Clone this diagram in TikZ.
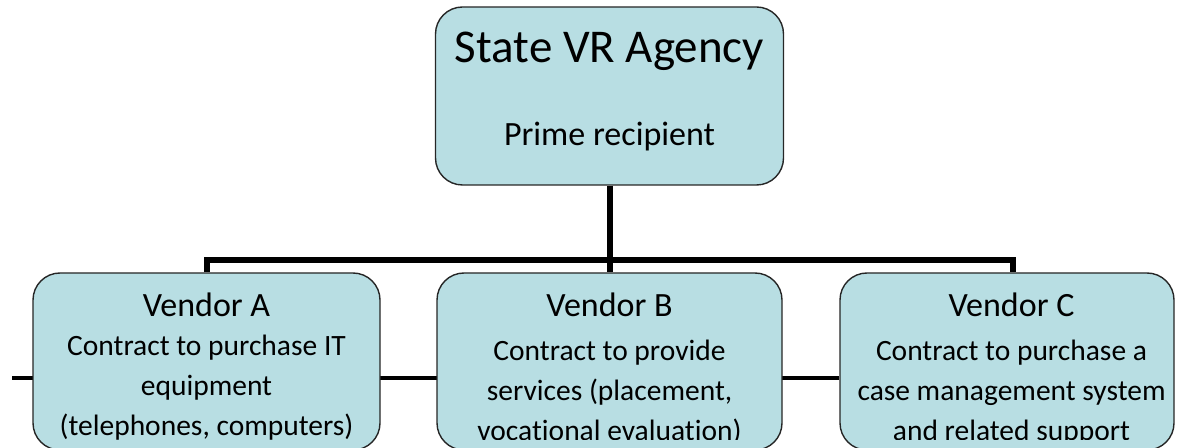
\documentclass[tikz,border=0pt]{standalone}
\usepackage{fontspec}
\setmainfont{Carlito}[Ligatures=NoCommon]
\usepackage{xcolor}
\usepackage{tikz}
\usetikzlibrary{positioning,backgrounds}
\definecolor{boxfill}{RGB}{184,222,227}
\tikzstyle{orgbox} = [draw=black!85, fill=boxfill, line width=1.4pt,
    rectangle, rounded corners=27pt, minimum width=347pt, minimum height=177pt, inner sep=0pt]
\tikzstyle{orgtext} = [anchor=north, inner sep=0pt, text width=330pt, align=center]
\tikzstyle{busline} = [line width=6pt]
\tikzstyle{thinlink} = [line width=3.3pt]
\newcommand{\boxsize}[2]{\fontsize{#1}{#2}\selectfont
    \spaceskip=\fontdimen2\font\xspaceskip=\fontdimen2\font\relax}
\newcommand{\vendtitle}[2][-1pt]{{\boxsize{34}{40}#2\par}\vspace{#1}\boxsize{29.5}{40}}

\begin{document}
\begin{tikzpicture}[x=1pt,y=1pt]
\useasboundingbox (0,0) rectangle (1177,447);
\clip (0,0) rectangle (1177,447);
% prime recipient
\node [orgbox, minimum width=348pt, minimum height=178pt] (agency) at (609.5,351) {};
\node [orgtext, below=26pt of agency.north] (agencytext) {%
    {\boxsize{47}{56}State VR Agency\par}%
    \boxsize{34}{83}Prime recipient\par};
% vendors
\node [orgbox] (vendA) at (206.5,85.5) {};
\node [orgbox, minimum width=345pt] (vendB) at (609.5,85.5) {};
\node [orgbox, minimum width=334pt] (vendC) at (1007,85.5) {};
\begin{scope}
\clip (0,8) rectangle (1177,447);
\node [orgtext, below=20pt of vendA.north] (vendAtext) {\vendtitle{Vendor A}%
    Contract to purchase IT\\ equipment\\ (telephones, computers)\par};
\node [orgtext, below=20pt of vendB.north] (vendBtext) {\vendtitle[4pt]{Vendor B}%
    Contract to provide\\ services (placement,\\ vocational evaluation)\par};
\node [orgtext, below=20pt of vendC.north, xshift=4.5pt, text width=320pt] (vendCtext) {\vendtitle[4pt]{Vendor C}%
    Contract to purchase a\\ case management system\\ and related support\par};
\end{scope}
% connectors
\coordinate (bus) at (609.5,187);
\draw[busline] (agency.south) -- (vendB.north);
\draw[busline] (vendA.north) |- (bus) -| ([xshift=6pt]vendC.north);
\begin{scope}[on background layer]
\coordinate (lend) at (12,69);
\draw[thinlink] (lend) -- (vendC.west |- lend);
\end{scope}
\end{tikzpicture}
\end{document}
